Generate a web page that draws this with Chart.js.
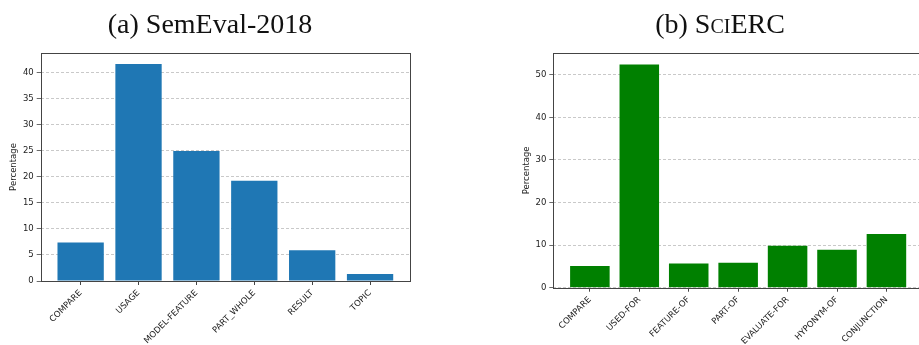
<!DOCTYPE html>
<html>
<head>
<meta charset="utf-8">
<script src="https://cdn.jsdelivr.net/npm/chart.js@4/dist/chart.umd.min.js"></script>
<style>
html, body { margin: 0; padding: 0; overflow: hidden; background: #fff; width: 919px; height: 345px; }
#left { position: absolute; left: 0; top: 0; }
#right { position: absolute; left: 517px; top: 0; }
</style>
</head>
<body>
<canvas id="left" width="420" height="345"></canvas>
<canvas id="right" width="406" height="345"></canvas>
<script>
// (a) SemEval-2018
const semevalTitle = [['(a) SemEval-2018', false]];
const semevalLabels = ['COMPARE', 'USAGE', 'MODEL-FEATURE', 'PART_WHOLE', 'RESULT', 'TOPIC'];
const semevalValues = [7.4, 41.6, 24.9, 19.2, 5.9, 1.35];
const semevalYTicks = [0, 5, 10, 15, 20, 25, 30, 35, 40];

// (b) SciERC  (second flag = small caps)
const scierTitle = [['(b) S', false], ['ci', true], ['ERC', false]];
const scierLabels = ['COMPARE', 'USED-FOR', 'FEATURE-OF', 'PART-OF', 'EVALUATE-FOR', 'HYPONYM-OF', 'CONJUNCTION'];
const scierValues = [5.1, 52.4, 5.7, 5.85, 9.85, 8.9, 12.6];
const scierYTicks = [0, 10, 20, 30, 40, 50];

const spineColor = '#444';
const textColor = '#222';
const tickFont = { family: "'DejaVu Sans', sans-serif", size: 8.5 };
const titleFamily = "'Liberation Serif', serif";

// matplotlib-like full frame round the plot area
const boxPlugin = {
    id: 'box',
    afterDraw(chart) {
        const a = chart.chartArea;
        const ctx = chart.ctx;
        ctx.save();
        ctx.strokeStyle = spineColor;
        ctx.lineWidth = 1;
        ctx.strokeRect(Math.round(a.left) + 0.5, Math.round(a.top) + 0.5,
            Math.round(a.right - a.left), Math.round(a.bottom - a.top));
        ctx.restore();
    }
};

// subfigure caption, with small-caps runs
const captionPlugin = {
    id: 'caption',
    afterDraw(chart, args, opts) {
        const ctx = chart.ctx;
        ctx.save();
        ctx.fillStyle = '#111';
        ctx.textBaseline = 'alphabetic';
        ctx.textAlign = 'left';
        const fontOf = caps => (caps ? 'small-caps ' : '') + '28px ' + titleFamily;
        let total = 0;
        opts.parts.forEach(p => { ctx.font = fontOf(p[1]); total += ctx.measureText(p[0]).width; });
        let x = opts.x - total / 2;
        opts.parts.forEach(p => {
            ctx.font = fontOf(p[1]);
            ctx.fillText(p[0], x, opts.y);
            x += ctx.measureText(p[0]).width;
        });
        ctx.restore();
    }
};

function makeChart(id, cfg) {
    const n = cfg.labels.length;
    const pad = 0.4 + 0.05 * (n - 0.2);
    return new Chart(document.getElementById(id), {
        type: 'bar',
        data: {
            datasets: [{
                data: cfg.values.map((v, i) => ({ x: i, y: v })),
                backgroundColor: cfg.color,
                borderWidth: 0,
                barPercentage: 1,
                categoryPercentage: 0.8
            }]
        },
        options: {
            responsive: false,
            animation: false,
            events: [],
            layout: { padding: { left: 0, right: cfg.padRight, top: 53, bottom: 0 } },
            plugins: {
                legend: { display: false },
                tooltip: { enabled: false },
                caption: { parts: cfg.title, x: cfg.titleX, y: 33 }
            },
            scales: {
                x: {
                    type: 'linear',
                    offset: false,
                    min: -pad,
                    max: n - 1 + pad,
                    afterBuildTicks: axis => { axis.ticks = cfg.labels.map((l, i) => ({ value: i })); },
                    afterFit: scale => { scale.height = cfg.xAxisH; },
                    grid: { offset: false, drawOnChartArea: false, drawTicks: true, tickLength: 4, tickColor: spineColor },
                    border: { display: false },
                    ticks: {
                        autoSkip: false,
                        minRotation: 45,
                        maxRotation: 45,
                        padding: 3,
                        color: textColor,
                        font: tickFont,
                        callback: (v, i) => cfg.labels[i]
                    }
                },
                y: {
                    min: 0,
                    max: cfg.yMax,
                    afterBuildTicks: axis => { axis.ticks = cfg.yTicks.map(v => ({ value: v })); },
                    afterFit: scale => { scale.width = cfg.yAxisW; },
                    grid: { color: '#bbb', lineWidth: 0.8, tickColor: spineColor, tickLength: 4, tickBorderDash: [] },
                    border: { display: false, dash: [3, 2] },
                    ticks: { padding: 3, color: textColor, font: tickFont },
                    title: {
                        display: true,
                        text: 'Percentage',
                        color: textColor,
                        font: tickFont,
                        padding: { top: cfg.yTitlePad, bottom: 0 }
                    }
                }
            }
        },
        plugins: [boxPlugin, captionPlugin]
    });
}

makeChart('left', {
    title: semevalTitle,
    titleX: 210,
    labels: semevalLabels,
    values: semevalValues,
    color: '#1f77b4',
    yTicks: semevalYTicks,
    yMax: 43.7,
    yAxisW: 40.7,
    xAxisH: 64,
    yTitlePad: 9,
    padRight: 10
});

makeChart('right', {
    title: scierTitle,
    titleX: 203,
    labels: scierLabels,
    values: scierValues,
    color: '#008000',
    yTicks: scierYTicks,
    yMax: 55.1,
    yAxisW: 36.3,
    xAxisH: 57.3,
    yTitlePad: 5,
    padRight: 0
});
</script>
</body>
</html>
